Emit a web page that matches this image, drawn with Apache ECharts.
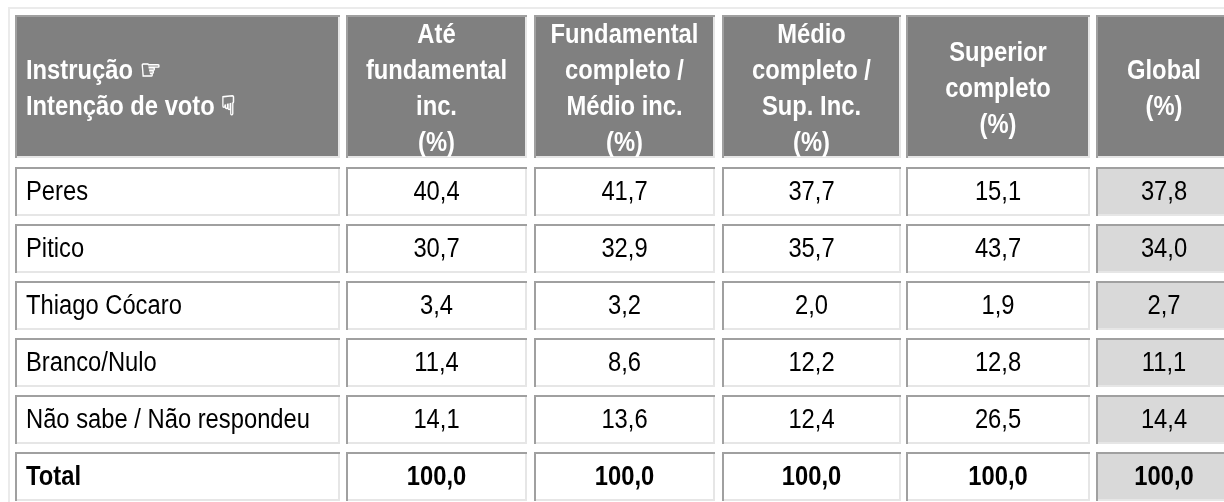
<!DOCTYPE html>
<html>
<head>
<meta charset="utf-8">
<script src="https://cdn.jsdelivr.net/npm/echarts@6/dist/echarts.min.js"></script>
<style>
html,body{margin:0;padding:0;background:#fff;}
#chart{width:1224px;height:502px;}
</style>
</head>
<body>
<div id="chart"></div>
<script>
// ---- data ----
const headerLabels = [
  'Instrução ☞\nIntenção de voto ☟',
  'Até\nfundamental\ninc.\n(%)',
  'Fundamental\ncompleto /\nMédio inc.\n(%)',
  'Médio\ncompleto /\nSup. Inc.\n(%)',
  'Superior\ncompleto\n(%)',
  'Global\n(%)'
];
const rowLabels = ['Peres', 'Pitico', 'Thiago Cócaro', 'Branco/Nulo', 'Não sabe / Não respondeu', 'Total'];
const ateFundamental   = [40.4, 30.7, 3.4, 11.4, 14.1, 100.0];
const fundCompleto     = [41.7, 32.9, 3.2, 8.6, 13.6, 100.0];
const medioCompleto    = [37.7, 35.7, 2.0, 12.2, 12.4, 100.0];
const superiorCompleto = [15.1, 43.7, 1.9, 12.8, 26.5, 100.0];
const globalPct        = [37.8, 34.0, 2.7, 11.1, 14.4, 100.0];
const valueColumns = [ateFundamental, fundCompleto, medioCompleto, superiorCompleto, globalPct];

// ---- layout (pixel units of the axes) ----
const colEdges = [[15, 340], [346, 527], [534, 715], [722, 901], [906, 1090], [1096, 1232]];
const headerEdge = [15, 158];
const bodyTop = 167, rowPitch = 57, rowHeight = 49;
function rowEdge(r) {
  if (r === 0) return headerEdge;
  const t = bodyTop + (r - 1) * rowPitch;
  return [t, t + rowHeight];
}
const FONT = "'Liberation Sans', Arial, sans-serif";
const FONT_SIZE = 27;
const NARROW = 0.88;
const fmt = v => v.toFixed(1).replace('.', ',');

// ---- build cells ----
const cells = [];
headerLabels.forEach((h, c) => cells.push({ value: [c, 0], label: h, kind: 'header' }));
rowLabels.forEach((name, i) => {
  const r = i + 1;
  const isTotal = i === rowLabels.length - 1;
  cells.push({ value: [0, r], label: name, kind: 'label', bold: isTotal });
  valueColumns.forEach((col, j) => {
    cells.push({ value: [j + 1, r], label: fmt(col[i]), kind: j === 4 ? 'global' : 'num', bold: isTotal });
  });
});

function renderItem(params, api) {
  const c = api.value(0), r = api.value(1);
  const cell = cells[params.dataIndex];
  const [x0, x1] = colEdges[c];
  const [y0, y1] = rowEdge(r);
  const p0 = api.coord([x0, y0]);
  const p1 = api.coord([x1, y1]);
  const w = p1[0] - p0[0], h = p1[1] - p0[1];
  let fill = '#ffffff';
  if (cell.kind === 'header') fill = '#808080';
  else if (cell.kind === 'global') fill = '#d9d9d9';
  const dark = '#a0a0a0', light = '#e6e6e6';
  const children = [
    { type: 'rect', shape: { x: p0[0], y: p0[1], width: w, height: h }, style: { fill: fill } },
    { type: 'line', shape: { x1: p0[0] + 1, y1: p0[1], x2: p0[0] + 1, y2: p1[1] }, style: { stroke: dark, lineWidth: 2 } },
    { type: 'line', shape: { x1: p0[0], y1: p0[1] + 1, x2: p1[0], y2: p0[1] + 1 }, style: { stroke: dark, lineWidth: 2 } },
    { type: 'line', shape: { x1: p1[0] - 1, y1: p0[1] + 2, x2: p1[0] - 1, y2: p1[1] }, style: { stroke: light, lineWidth: 2 } },
    { type: 'line', shape: { x1: p0[0] + 2, y1: p1[1] - 1, x2: p1[0], y2: p1[1] - 1 }, style: { stroke: light, lineWidth: 2 } }
  ];
  const left = c === 0;
  const isHeader = cell.kind === 'header';
  children.push({
    type: 'text',
    x: left ? p0[0] + 11 : (p0[0] + p1[0]) / 2,
    y: (p0[1] + p1[1]) / 2 + (isHeader ? 3 : 1),
    scaleX: NARROW,
    style: {
      text: cell.label,
      x: 0,
      y: 0,
      align: left ? 'left' : 'center',
      verticalAlign: 'middle',
      fontFamily: FONT,
      fontSize: FONT_SIZE,
      fontWeight: (isHeader || cell.bold) ? 'bold' : 'normal',
      lineHeight: isHeader ? 36 : 30,
      fill: isHeader ? '#ffffff' : '#000000'
    }
  });
  return { type: 'group', children: children };
}

const chart = echarts.init(document.getElementById('chart'), null, { renderer: 'canvas' });
chart.setOption({
  animation: false,
  backgroundColor: '#ffffff',
  grid: { left: 0, right: 0, top: 0, bottom: 0 },
  xAxis: { type: 'value', min: 0, max: 1224, show: false },
  yAxis: { type: 'value', min: 0, max: 502, inverse: true, show: false },
  graphic: [
    { type: 'line', shape: { x1: 9, y1: 8, x2: 9, y2: 502 }, style: { stroke: '#ebebeb', lineWidth: 2 } },
    { type: 'line', shape: { x1: 8, y1: 8, x2: 1224, y2: 8 }, style: { stroke: '#ebebeb', lineWidth: 2 } }
  ],
  series: [{
    type: 'custom',
    renderItem: renderItem,
    clip: true,
    data: cells.map(c => c.value)
  }]
});
</script>
</body>
</html>
